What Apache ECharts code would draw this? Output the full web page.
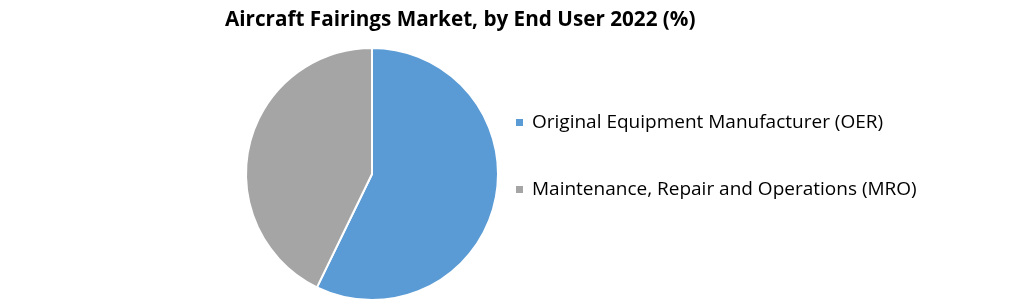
<!DOCTYPE html>
<html><head><meta charset="utf-8">
<script src="https://cdn.jsdelivr.net/npm/echarts@6/dist/echarts.min.js"></script>
<style>html,body{margin:0;padding:0;background:#fff}#c{width:1021px;height:304px}</style>
</head><body><div id="c"></div>
<script>
const titleText = 'Aircraft Fairings Market, by End User 2022 (%)';
const categories = ['Original Equipment Manufacturer (OER)', 'Maintenance, Repair and Operations (MRO)'];
const values = [57.2, 42.8];
const colors = ['#5b9bd5', '#a5a5a5'];

const chart = echarts.init(document.getElementById('c'), null, {renderer: 'canvas'});
chart.setOption({
  animation: false,
  title: {
    text: titleText, left: 220, top: 5,
    textStyle: {fontFamily: 'Open Sans', fontWeight: 'bold', fontSize: 20.7, color: '#000'}
  },
  legend: {
    orient: 'vertical', left: 509, top: 108,
    itemWidth: 9, itemHeight: 9, itemGap: 48, icon: 'rect',
    textStyle: {fontFamily: 'Open Sans', fontSize: 19, lineHeight: 19, color: '#000', padding: [0,0,0,3]},
    data: categories
  },
  series: [{
    type: 'pie', center: [372, 174], radius: 126, startAngle: 90, clockwise: true,
    label: {show: false}, labelLine: {show: false},
    itemStyle: {borderColor: '#fff', borderWidth: 2},
    data: categories.map((n, i) => ({name: n, value: values[i], itemStyle: {color: colors[i]}}))
  }]
});
</script></body></html>
